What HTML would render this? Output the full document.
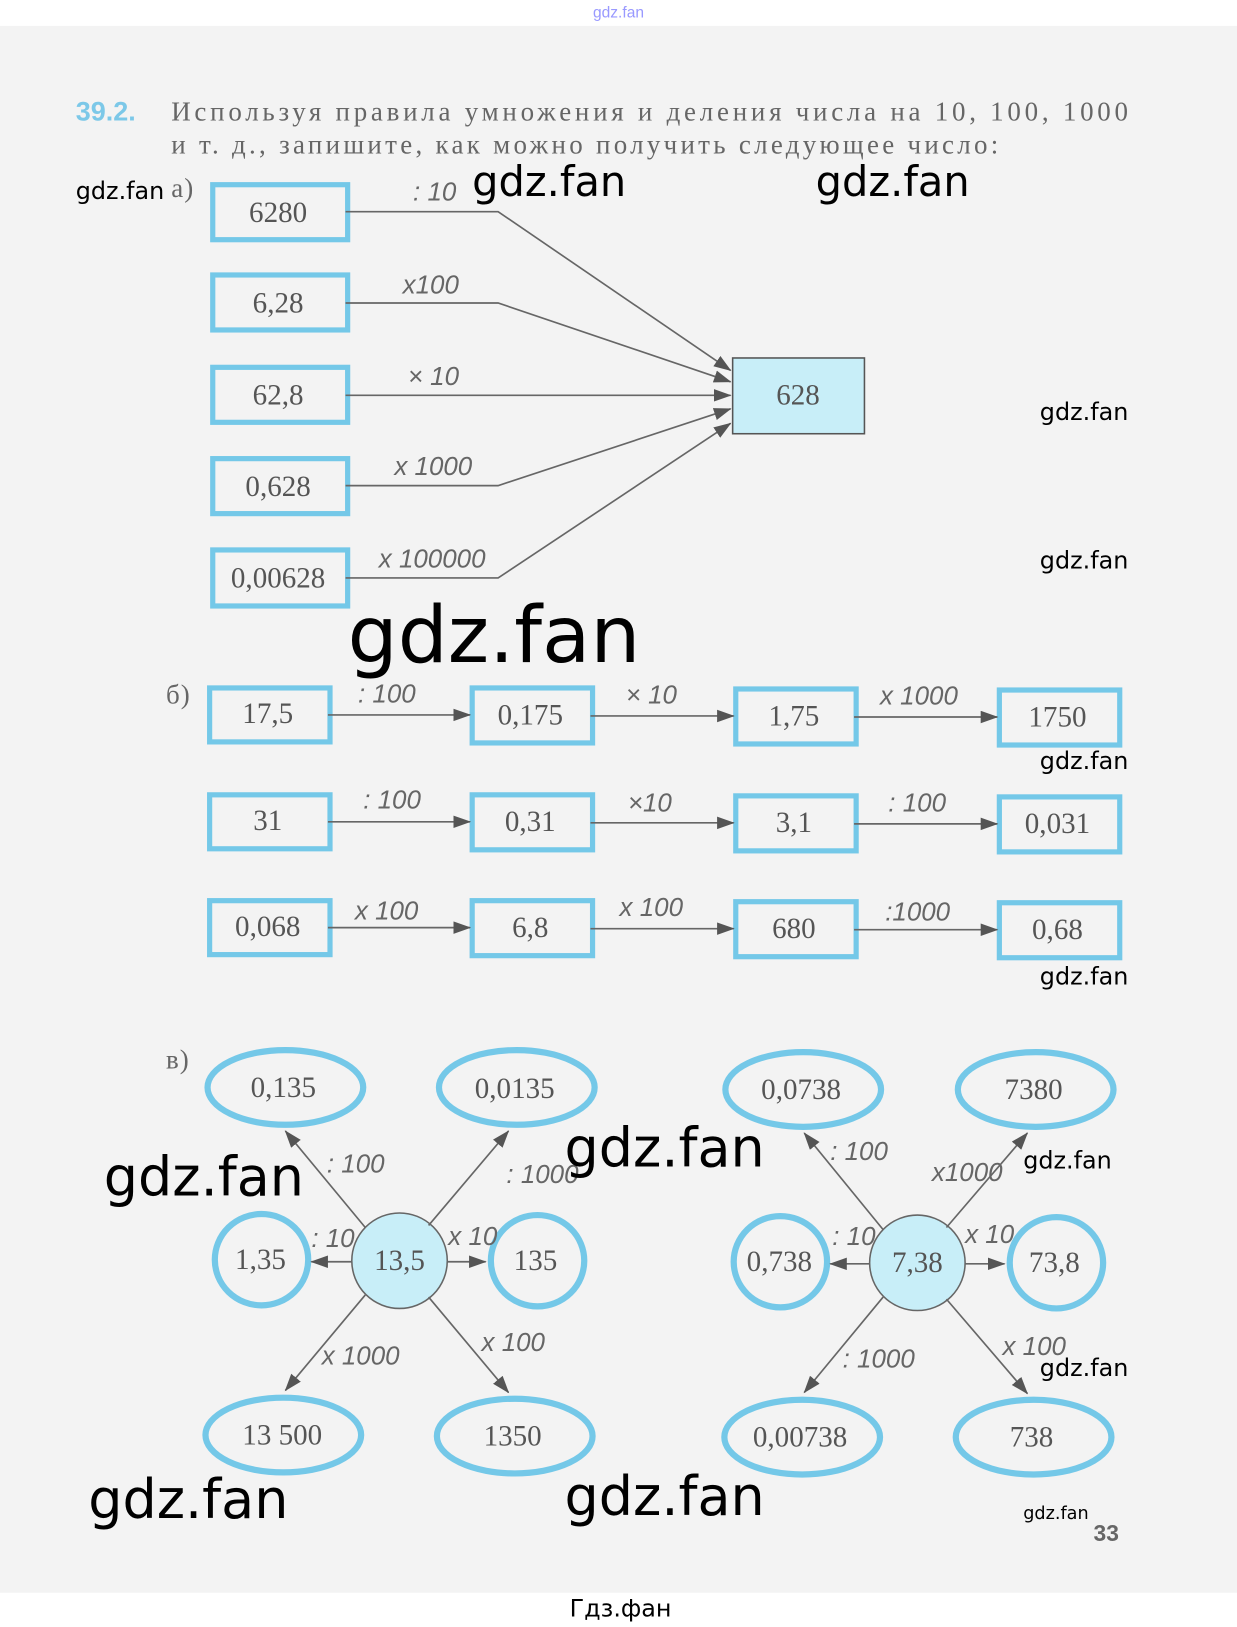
<!DOCTYPE html>
<html><head><meta charset="utf-8"><style>
html,body{margin:0;padding:0;background:#fff;}
svg{display:block}
.n{font-family:"Liberation Serif",serif;font-size:28px;fill:#555;text-anchor:middle;}
.h{font-family:"Liberation Serif","DejaVu Serif",serif;font-size:26px;fill:#666;letter-spacing:1px}
.l{font-family:"Liberation Sans",sans-serif;font-style:italic;font-size:25px;fill:#666;}
.w{font-family:"DejaVu Sans",sans-serif;fill:#000;}
.b{fill:none;stroke:#74c8e8;stroke-width:5}
.e{fill:none;stroke:#74c8e8;stroke-width:6}
.a{stroke:#666;stroke-width:1.6;fill:none}
</style></head><body>
<svg width="1237" height="1627" viewBox="0 0 1192 1568" preserveAspectRatio="none">
<defs>
<marker id="k" markerWidth="18" markerHeight="14" refX="16" refY="6" orient="auto" markerUnits="userSpaceOnUse"><path d="M0,0 L17,6 L0,12z" fill="#555"/></marker></defs>
<rect x="0" y="25" width="1192" height="1510" fill="#f3f3f3"/>
<text x="596" y="17" font-family="Liberation Sans" font-size="15" fill="#99f" text-anchor="middle">gdz.fan</text>
<text x="73" y="116" font-family="Liberation Sans" font-weight="bold" font-size="26" fill="#7cc8e8">39.2.</text>
<text x="165" y="116" class="h" textLength="923" lengthAdjust="spacing">Используя правила умножения и деления числа на 10, 100, 1000</text>
<text x="165" y="148" class="h" textLength="798" lengthAdjust="spacing">и т. д., запишите, как можно получить следующее число:</text>
<text x="165" y="190" class="h">а)</text>
<g>
<rect class="b" x="205" y="178" width="130" height="53"/><text class="n" x="268" y="214">6280</text>
<rect class="b" x="205" y="265" width="130" height="53"/><text class="n" x="268" y="301">6,28</text>
<rect class="b" x="205" y="354" width="130" height="53"/><text class="n" x="268" y="390">62,8</text>
<rect class="b" x="205" y="442" width="130" height="53"/><text class="n" x="268" y="478">0,628</text>
<rect class="b" x="205" y="530" width="130" height="54"/><text class="n" x="268" y="566">0,00628</text>
<rect x="706" y="345" width="127" height="73" fill="#c8eef8" stroke="#555" stroke-width="1.5"/><text class="n" x="769" y="390">628</text>
<path class="a" marker-end="url(#k)" d="M333,204 L480,204 L704,357"/>
<path class="a" marker-end="url(#k)" d="M333,292 L480,292 L704,368"/>
<path class="a" marker-end="url(#k)" d="M333,381 L704,381"/>
<path class="a" marker-end="url(#k)" d="M333,468 L480,468 L704,394"/>
<path class="a" marker-end="url(#k)" d="M333,557 L480,557 L704,408"/>
<text class="l" x="398" y="193">: 10</text>
<text class="l" x="388" y="283">x100</text>
<text class="l" x="393" y="371">× 10</text>
<text class="l" x="380" y="458">x 1000</text>
<text class="l" x="365" y="547">x 100000</text>
</g>
<text class="h" x="160" y="678">б)</text>
<g>
<rect class="b" x="202" y="663" width="116" height="52"/><text class="n" x="258" y="697">17,5</text>
<rect class="b" x="455" y="663" width="116" height="53"/><text class="n" x="511" y="698">0,175</text>
<rect class="b" x="709" y="664" width="116" height="53"/><text class="n" x="765" y="699">1,75</text>
<rect class="b" x="963" y="665" width="116" height="53"/><text class="n" x="1019" y="700">1750</text>
<rect class="b" x="202" y="766" width="116" height="52"/><text class="n" x="258" y="800">31</text>
<rect class="b" x="455" y="766" width="116" height="53"/><text class="n" x="511" y="801">0,31</text>
<rect class="b" x="709" y="767" width="116" height="53"/><text class="n" x="765" y="802">3,1</text>
<rect class="b" x="963" y="768" width="116" height="53"/><text class="n" x="1019" y="803">0,031</text>
<rect class="b" x="202" y="868" width="116" height="52"/><text class="n" x="258" y="902">0,068</text>
<rect class="b" x="455" y="868" width="116" height="53"/><text class="n" x="511" y="903">6,8</text>
<rect class="b" x="709" y="869" width="116" height="53"/><text class="n" x="765" y="904">680</text>
<rect class="b" x="963" y="870" width="116" height="53"/><text class="n" x="1019" y="905">0,68</text>
<g class="a">
<path marker-end="url(#k)" d="M316,689 L453,689"/><path marker-end="url(#k)" d="M569,690 L707,690"/><path marker-end="url(#k)" d="M823,691 L961,691"/>
<path marker-end="url(#k)" d="M316,792 L453,792"/><path marker-end="url(#k)" d="M569,793 L707,793"/><path marker-end="url(#k)" d="M823,794 L961,794"/>
<path marker-end="url(#k)" d="M316,894 L453,894"/><path marker-end="url(#k)" d="M569,895 L707,895"/><path marker-end="url(#k)" d="M823,896 L961,896"/>
</g>
<text class="l" x="345" y="677">: 100</text><text class="l" x="603" y="678">× 10</text><text class="l" x="848" y="679">x 1000</text>
<text class="l" x="350" y="779">: 100</text><text class="l" x="605" y="782">×10</text><text class="l" x="856" y="782">: 100</text>
<text class="l" x="342" y="886">x 100</text><text class="l" x="597" y="883">x 100</text><text class="l" x="853" y="887">:1000</text>
</g>
<text class="h" x="160" y="1030">в)</text>
<g>
<ellipse class="e" cx="275" cy="1048" rx="75" ry="36"/><text class="n" x="273" y="1057">0,135</text>
<ellipse class="e" cx="498" cy="1048" rx="75" ry="36"/><text class="n" x="496" y="1058">0,0135</text>
<ellipse class="e" cx="252" cy="1214" rx="45" ry="44"/><text class="n" x="251" y="1223">1,35</text>
<ellipse class="e" cx="518" cy="1215" rx="45" ry="44"/><text class="n" x="516" y="1224">135</text>
<circle cx="385" cy="1215" r="46" fill="#c8eef8" stroke="#666" stroke-width="1.5"/><text class="n" x="385" y="1224">13,5</text>
<ellipse class="e" cx="273" cy="1383" rx="75" ry="36"/><text class="n" x="272" y="1392">13 500</text>
<ellipse class="e" cx="496" cy="1384" rx="75" ry="36"/><text class="n" x="494" y="1393">1350</text>
<g class="a">
<path marker-end="url(#k)" d="M352,1183 L275,1090"/><path marker-end="url(#k)" d="M413,1181 L490,1090"/>
<path marker-end="url(#k)" d="M339,1216 L300,1216"/><path marker-end="url(#k)" d="M431,1216 L468,1216"/>
<path marker-end="url(#k)" d="M352,1248 L275,1340"/><path marker-end="url(#k)" d="M413,1250 L490,1342"/>
</g>
<text class="l" x="315" y="1130">: 100</text><text class="l" x="488" y="1140">: 1000</text>
<text class="l" x="300" y="1202">: 10</text><text class="l" x="432" y="1200">x 10</text>
<text class="l" x="310" y="1315">x 1000</text><text class="l" x="464" y="1302">x 100</text>

<ellipse class="e" cx="774" cy="1050" rx="75" ry="36"/><text class="n" x="772" y="1059">0,0738</text>
<ellipse class="e" cx="998" cy="1050" rx="75" ry="36"/><text class="n" x="996" y="1059">7380</text>
<ellipse class="e" cx="752" cy="1216" rx="45" ry="44"/><text class="n" x="751" y="1225">0,738</text>
<ellipse class="e" cx="1018" cy="1217" rx="45" ry="44"/><text class="n" x="1016" y="1226">73,8</text>
<circle cx="884" cy="1217" r="46" fill="#c8eef8" stroke="#666" stroke-width="1.5"/><text class="n" x="884" y="1226">7,38</text>
<ellipse class="e" cx="773" cy="1385" rx="75" ry="36"/><text class="n" x="771" y="1394">0,00738</text>
<ellipse class="e" cx="996" cy="1385" rx="75" ry="36"/><text class="n" x="994" y="1394">738</text>
<g class="a">
<path marker-end="url(#k)" d="M851,1185 L775,1092"/><path marker-end="url(#k)" d="M912,1183 L990,1092"/>
<path marker-end="url(#k)" d="M838,1218 L800,1218"/><path marker-end="url(#k)" d="M930,1218 L968,1218"/>
<path marker-end="url(#k)" d="M851,1250 L775,1342"/><path marker-end="url(#k)" d="M912,1252 L990,1343"/>
</g>
<text class="l" x="800" y="1118">: 100</text><text class="l" x="898" y="1138">x1000</text>
<text class="l" x="802" y="1200">: 10</text><text class="l" x="930" y="1198">x 10</text>
<text class="l" x="812" y="1318">: 1000</text><text class="l" x="966" y="1306">x 100</text>
</g>
<text x="1066" y="1485" font-family="Liberation Sans" font-weight="bold" font-size="22" fill="#666" text-anchor="middle">33</text>
<g class="w">
<text x="73" y="192" font-size="23">gdz.fan</text>
<text x="455" y="189" font-size="40">gdz.fan</text>
<text x="786" y="189" font-size="40">gdz.fan</text>
<text x="1002" y="405" font-size="23">gdz.fan</text>
<text x="1002" y="548" font-size="23">gdz.fan</text>
<text x="335" y="638" font-size="76">gdz.fan</text>
<text x="1002" y="741" font-size="23">gdz.fan</text>
<text x="1002" y="949" font-size="23">gdz.fan</text>
<text x="544" y="1124" font-size="52">gdz.fan</text>
<text x="100" y="1152" font-size="52">gdz.fan</text>
<text x="986" y="1126" font-size="23">gdz.fan</text>
<text x="1002" y="1326" font-size="23">gdz.fan</text>
<text x="85" y="1463" font-size="52">gdz.fan</text>
<text x="544" y="1460" font-size="52">gdz.fan</text>
<text x="986" y="1464" font-size="17">gdz.fan</text>
<text x="598" y="1558" font-size="23" text-anchor="middle">Гдз.фан</text>
</g>
</svg>
</body></html>
